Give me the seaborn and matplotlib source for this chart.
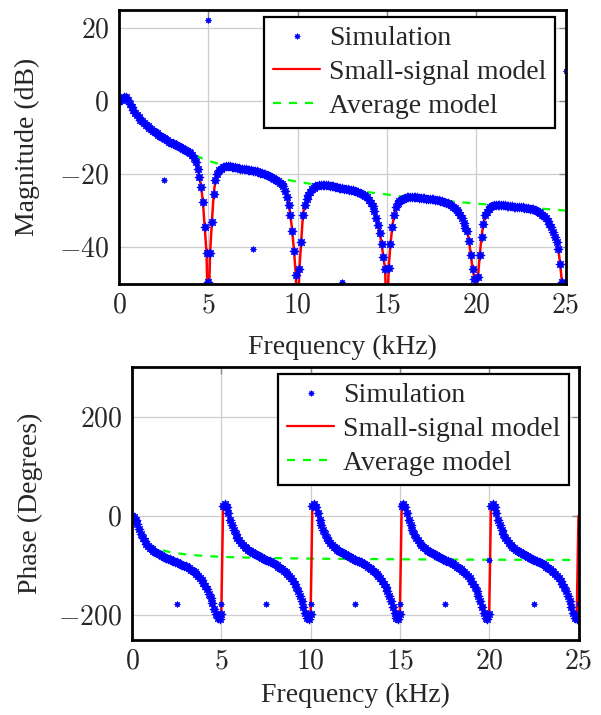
import numpy as np
import matplotlib
matplotlib.use("Agg")
import matplotlib.pyplot as plt
import seaborn as sns
from matplotlib.lines import Line2D
from matplotlib.ticker import FixedLocator, FuncFormatter

# ---------------- data ----------------
# frequency grid of the simulation samples, kHz (0.0 ... 25.0, step 0.1)
freq_khz = np.linspace(0.0, 25.0, 251)

# simulated magnitude (dB), one row per kHz
sim_mag = [
    0.0, 0.5, 0.9, 1.2, 1.3, 0.4, -0.7, -1.5, -2.3, -3.1,
    -3.8, -4.4, -5.0, -5.5, -6.0, -6.4, -6.8, -7.2, -7.6, -8.0,
    -8.4, -8.8, -9.2, -9.5, -9.8, -10.1, -10.4, -10.7, -11.0, -11.3,
    -11.5, -11.8, -12.0, -12.3, -12.5, -12.8, -13.0, -13.2, -13.5, -13.8,
    -14.2, -14.7, -15.4, -16.6, -18.4, -20.6, -23.4, -27.6, -34.5, -41.5,
    -49.5, -41.5, -33.0, -25.5, -21.5, -19.8, -18.9, -18.4, -18.1, -17.9,
    -17.8, -17.8, -17.8, -17.9, -18.0, -18.1, -18.2, -18.3, -18.4, -18.5,
    -18.5, -18.6, -18.7, -18.8, -18.9, -19.0, -19.1, -19.2, -19.3, -19.5,
    -19.7, -19.8, -20.0, -20.2, -20.4, -20.6, -20.9, -21.2, -21.5, -21.9,
    -22.3, -22.7, -23.3, -24.5, -26.2, -28.3, -31.2, -35.5, -41.0, -47.5,
    -58.0, -46.0, -38.5, -31.0, -28.3, -26.8, -25.6, -24.7, -24.1, -23.6,
    -23.3, -23.1, -23.0, -22.9, -22.9, -22.9, -23.0, -23.0, -23.1, -23.2,
    -23.3, -23.4, -23.5, -23.6, -23.7, -23.8, -23.9, -24.0, -24.1, -24.2,
    -24.3, -24.4, -24.5, -24.7, -24.9, -25.1, -25.3, -25.6, -25.9, -26.3,
    -26.9, -27.7, -28.6, -30.0, -31.8, -33.8, -36.0, -39.0, -42.5, -46.0,
    -58.0, -45.5, -39.0, -34.5, -31.0, -29.0, -27.9, -27.3, -26.9, -26.6,
    -26.4, -26.3, -26.2, -26.2, -26.2, -26.2, -26.3, -26.3, -26.4, -26.4,
    -26.5, -26.5, -26.6, -26.6, -26.7, -26.8, -26.8, -26.9, -27.0, -27.1,
    -27.2, -27.3, -27.5, -27.7, -27.9, -28.1, -28.4, -28.8, -29.2, -29.7,
    -30.3, -31.1, -32.0, -33.2, -34.6, -35.6, -38.3, -42.0, -46.0, -48.5,
    -58.0, -48.0, -42.0, -37.0, -33.5, -31.2, -30.2, -29.5, -29.0, -28.7,
    -28.5, -28.4, -28.4, -28.4, -28.4, -28.5, -28.5, -28.6, -28.6, -28.7,
    -28.7, -28.8, -28.8, -28.9, -28.9, -29.0, -29.0, -29.1, -29.2, -29.3,
    -29.4, -29.5, -29.6, -29.8, -30.0, -30.3, -30.6, -31.0, -31.4, -32.0,
    -32.8, -33.7, -34.5, -35.7, -37.0, -38.5, -40.5, -44.5, -49.5, -58.0,
    -58.0,
]

# simulated phase (degrees), one row per kHz
sim_phase = [
    0, -3, -9, -17, -27, -37, -45, -51, -56, -60,
    -64, -67, -70, -72, -74, -76, -78, -80, -82, -84,
    -86, -87, -89, -90, -92, -93, -95, -96, -98, -100,
    -101, -103, -105, -108, -111, -114, -117, -121, -125, -130,
    -135, -141, -148, -157, -166, -176, -187, -198, -206, -208,
    -197, 20, 24, 17, 5, -8, -19, -29, -37, -44,
    -49, -54, -58, -62, -65, -68, -71, -73, -75, -77,
    -79, -81, -83, -85, -86, -88, -90, -91, -93, -95,
    -97, -99, -102, -104, -107, -110, -114, -117, -121, -126,
    -131, -137, -144, -152, -161, -171, -183, -196, -205, -208,
    -197, 20, 24, 17, 5, -8, -19, -29, -37, -44,
    -49, -54, -58, -62, -65, -68, -71, -73, -75, -77,
    -79, -81, -83, -85, -86, -88, -90, -91, -93, -95,
    -97, -99, -102, -104, -107, -110, -114, -117, -121, -126,
    -131, -137, -144, -152, -161, -171, -183, -196, -205, -208,
    -197, 20, 24, 17, 5, -8, -19, -29, -37, -44,
    -49, -54, -58, -62, -65, -68, -71, -73, -75, -77,
    -79, -81, -83, -85, -86, -88, -90, -91, -93, -95,
    -97, -99, -102, -104, -107, -110, -114, -117, -121, -126,
    -131, -137, -144, -152, -161, -171, -183, -196, -205, -208,
    -197, 20, 24, 17, 5, -8, -19, -29, -37, -44,
    -49, -54, -58, -62, -65, -68, -71, -73, -75, -77,
    -79, -81, -83, -85, -86, -88, -90, -91, -93, -95,
    -97, -99, -102, -104, -107, -110, -114, -117, -121, -126,
    -131, -137, -144, -152, -161, -171, -183, -196, -205, -208,
    -199,
]

# isolated simulation samples (aliasing points)
alias_mag_freq = [2.5, 5.0, 7.5, 12.5, 25.0]
alias_mag = [-21.4, 22.2, -40.4, -49.5, 8.2]
alias_phase_freq = [2.5, 5.0, 7.5, 10.0, 12.5, 15.0, 17.5, 20.0, 22.5, 25.0]
alias_phase = [-178, -178, -178, -178, -178, -178, -178, -89, -178, -178]

# small-signal model: follows the simulation, deep notches / phase end value
model_notch_freq = [5.0, 10.0, 15.0, 20.0, 25.0]
model_notch_mag = [-62.0, -62.0, -62.0, -50.5, -62.0]
model_end_freq = [25.0]
model_end_phase = [0.0]

# average model
avg_freq = [0, 0.5, 1, 1.5, 2, 2.5, 3, 3.5, 4, 4.5, 5, 6, 7, 8, 9, 10,
            12, 14, 16, 18, 20, 22, 24, 25]
avg_mag = [0.0, -0.3, -3.6, -6.3, -8.4, -10.1, -11.5, -12.8, -14.1, -15.3,
           -16.3, -17.7, -19.0, -20.1, -21.1, -22.0, -23.6, -24.9, -26.1,
           -27.1, -28.0, -28.8, -29.5, -29.9]
avg_phase = [0, -33, -58, -67, -72, -75, -77.5, -79, -80.5, -81.5, -82.5,
             -83.5, -84.3, -85, -85.5, -86, -86.7, -87.2, -87.6, -88, -88.3,
             -88.5, -88.7, -88.8]

legend_labels = ["Simulation", "Small-signal model", "Average model"]
x_ticks = [0, 5, 10, 15, 20, 25]
mag_ticks = [-40, -20, 0, 20]
phase_ticks = [-200, 0, 200]

# ---------------- styling ----------------
sns.set_style("white")
plt.rcParams["font.family"] = ["Liberation Serif", "DejaVu Serif"]
plt.rcParams["mathtext.fontset"] = "cm"

BLUE = (0, 0, 1)
RED = (1, 0, 0)
GREEN = (0, 1, 0)
FS = 20
# blob-like 8-point star marker (shape only)
_ang = np.arange(16) * np.pi / 8
_rad = np.where(np.arange(16) % 2 == 0, 1.0, 0.62)
MARK = list(zip(_rad * np.cos(_ang), _rad * np.sin(_ang)))
MS_AREA = 56

model_mag = np.array(sim_mag, dtype=float)
for f, v in zip(model_notch_freq, model_notch_mag):
    model_mag[np.argmin(np.abs(freq_khz - f))] = v
model_phase = np.array(sim_phase, dtype=float)
for f, v in zip(model_end_freq, model_end_phase):
    model_phase[np.argmin(np.abs(freq_khz - f))] = v

fig = plt.figure(figsize=(6.01, 7.15), dpi=100)
W, H = 601.0, 715.0
ax1 = fig.add_axes([119 / W, (H - 284) / H, 446.5 / W, 274 / H])
ax2 = fig.add_axes([132 / W, (H - 640) / H, 446.5 / W, 273 / H])

fmt = FuncFormatter(lambda v, p: r"$%d$" % int(round(v)))


def draw(ax, sim_y, model_y, avg_y, a_f, a_y, ylim, yticks, ylabel, lab_x,
         xlab_y, leg_anchor):
    sns.lineplot(x=avg_freq, y=avg_y, ax=ax, color=GREEN, lw=1.6,
                 estimator=None, sort=False, zorder=2, legend=False)
    ax.lines[-1].set_dashes([3.6, 3.6])
    sns.lineplot(x=freq_khz, y=model_y, ax=ax, color=RED, lw=1.8,
                 estimator=None, sort=False, zorder=3, legend=False)
    sns.scatterplot(x=freq_khz, y=sim_y, ax=ax, color=BLUE, marker=MARK,
                    s=MS_AREA, linewidth=0, zorder=4, legend=False)
    sns.scatterplot(x=a_f, y=a_y, ax=ax, color=BLUE, marker=MARK,
                    s=28, linewidth=0, zorder=4, legend=False)
    ax.set_xlim(0, 25)
    ax.set_ylim(*ylim)
    ax.xaxis.set_major_locator(FixedLocator(x_ticks))
    ax.yaxis.set_major_locator(FixedLocator(yticks))
    ax.xaxis.set_major_formatter(fmt)
    ax.yaxis.set_major_formatter(fmt)
    ax.grid(True, color="#cdcdcd", lw=0.9)
    ax.set_axisbelow(True)
    ax.tick_params(direction="in", top=True, right=True, length=5,
                   width=1.0, color="#8a8a8a", labelsize=FS, pad=7)
    for s in ax.spines.values():
        s.set_visible(True)
        s.set_color("black")
        s.set_linewidth(2.0)
        s.set_zorder(6)
    ax.set_xlabel("Frequency (kHz)", fontsize=FS)
    ax.set_ylabel(ylabel, fontsize=FS)
    ax.xaxis.set_label_coords(0.5, xlab_y)
    ax.yaxis.set_label_coords(lab_x, 0.5)
    handles = [
        Line2D([], [], ls="none", marker=MARK, ms=5, color=BLUE, mew=0),
        Line2D([], [], color=RED, lw=1.6),
        Line2D([], [], color=GREEN, lw=1.6, dashes=[3.6, 3.6]),
    ]
    leg = ax.legend(handles, legend_labels, loc="upper right",
                    bbox_to_anchor=leg_anchor, borderaxespad=0,
                    frameon=True, fancybox=False, edgecolor="black",
                    framealpha=1, fontsize=FS, handlelength=1.7,
                    handletextpad=0.3, labelspacing=0.3, borderpad=0.32,
                    numpoints=1)
    leg.get_frame().set_linewidth(1.6)
    leg.set_zorder(10)


draw(ax1, sim_mag, model_mag, avg_mag, alias_mag_freq, alias_mag,
     (-50, 25), mag_ticks, "Magnitude (dB)", -0.176, -0.185,
     (1 - 10.5 / 446.5, 1 - 7 / 274))
draw(ax2, sim_phase, model_phase, avg_phase, alias_phase_freq, alias_phase,
     (-250, 300), phase_ticks, "Phase (Degrees)", -0.2, -0.158,
     (1 - 9.5 / 446.5, 1 - 7 / 273))

fig.savefig("out.png", dpi=100)
